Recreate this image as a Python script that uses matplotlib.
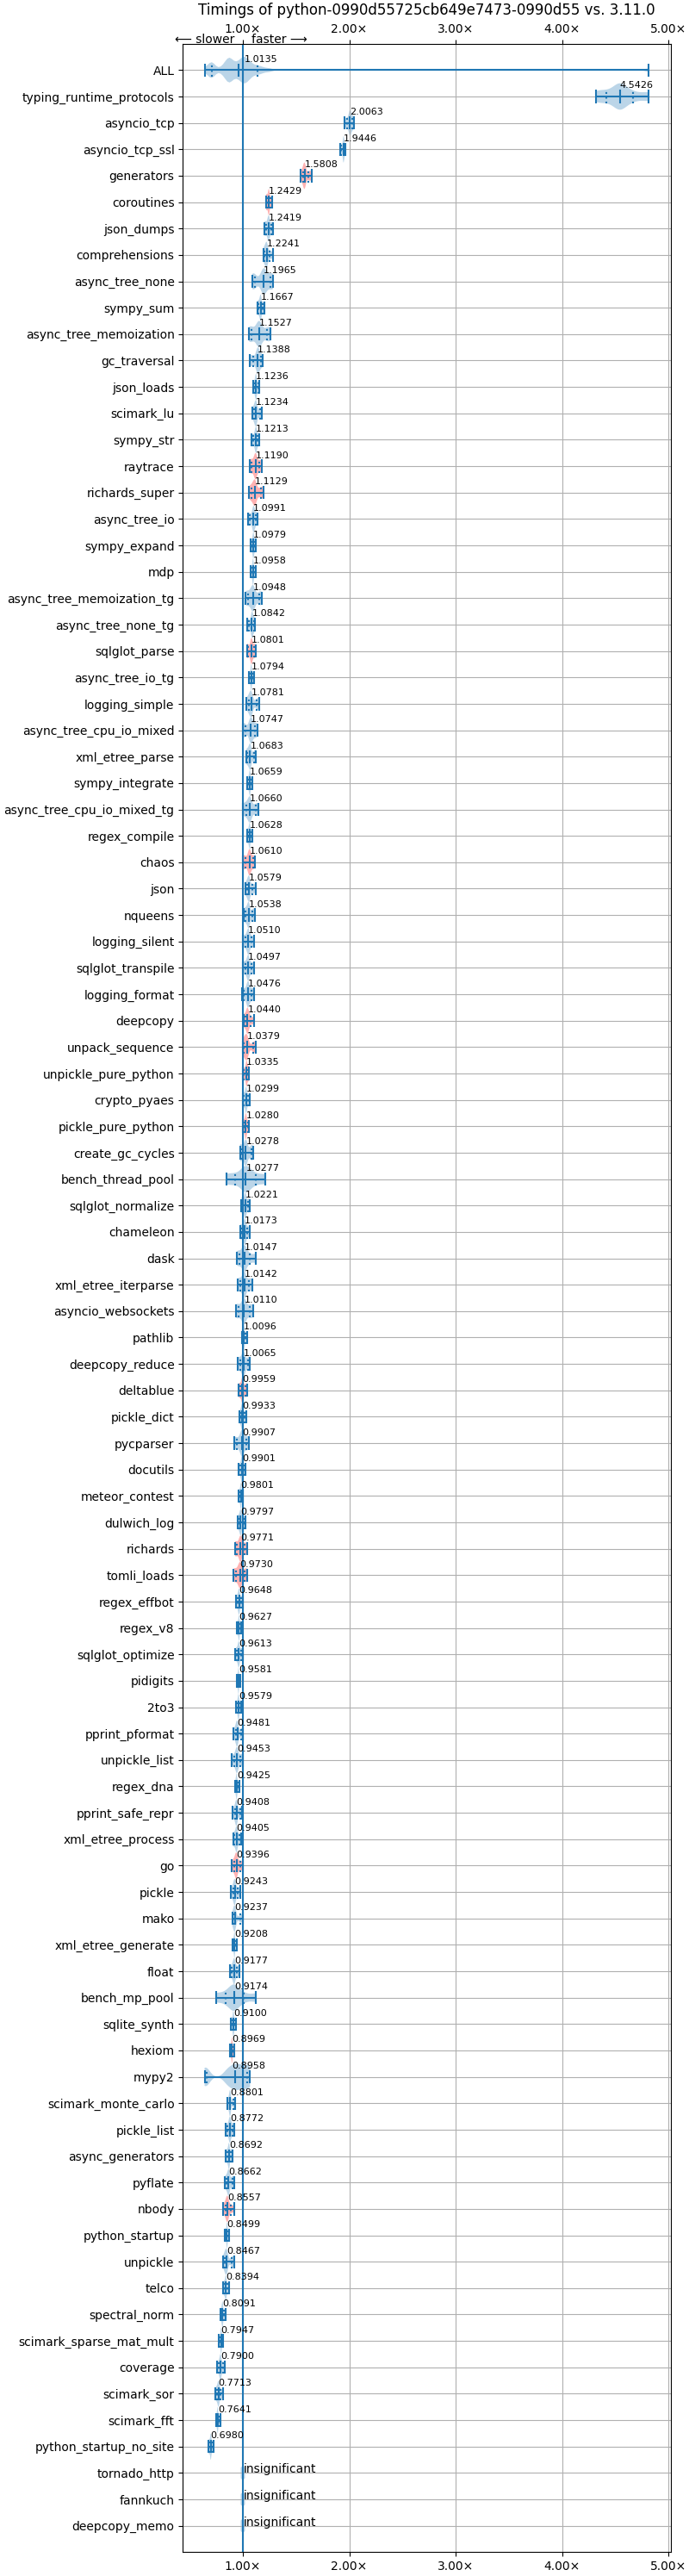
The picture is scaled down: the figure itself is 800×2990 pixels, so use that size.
import matplotlib
matplotlib.use("Agg")
import matplotlib.pyplot as plt

TITLE = "Timings of python-0990d55725cb649e7473-0990d55 vs. 3.11.0"

names = ["typing_runtime_protocols", "asyncio_tcp", "asyncio_tcp_ssl", "generators", "coroutines", "json_dumps",
         "comprehensions", "async_tree_none", "sympy_sum", "async_tree_memoization", "gc_traversal", "json_loads",
         "scimark_lu", "sympy_str", "raytrace", "richards_super", "async_tree_io", "sympy_expand", "mdp",
         "async_tree_memoization_tg", "async_tree_none_tg", "sqlglot_parse", "async_tree_io_tg", "logging_simple",
         "async_tree_cpu_io_mixed", "xml_etree_parse", "sympy_integrate", "async_tree_cpu_io_mixed_tg", "regex_compile",
         "chaos", "json", "nqueens", "logging_silent", "sqlglot_transpile", "logging_format", "deepcopy",
         "unpack_sequence", "unpickle_pure_python", "crypto_pyaes", "pickle_pure_python", "create_gc_cycles",
         "bench_thread_pool", "sqlglot_normalize", "chameleon", "dask", "xml_etree_iterparse", "asyncio_websockets",
         "pathlib", "deepcopy_reduce", "deltablue", "pickle_dict", "pycparser", "docutils", "meteor_contest",
         "dulwich_log", "richards", "tomli_loads", "regex_effbot", "regex_v8", "sqlglot_optimize", "pidigits", "2to3",
         "pprint_pformat", "unpickle_list", "regex_dna", "pprint_safe_repr", "xml_etree_process", "go", "pickle",
         "mako", "xml_etree_generate", "float", "bench_mp_pool", "sqlite_synth", "hexiom", "mypy2",
         "scimark_monte_carlo", "pickle_list", "async_generators", "pyflate", "nbody", "python_startup", "unpickle",
         "telco", "spectral_norm", "scimark_sparse_mat_mult", "coverage", "scimark_sor", "scimark_fft",
         "python_startup_no_site"]

medians = [4.5426, 2.0063, 1.9446, 1.5808, 1.2429, 1.2419, 1.2241, 1.1965, 1.1667, 1.1527, 1.1388, 1.1236, 1.1234,
           1.1213, 1.1190, 1.1129, 1.0991, 1.0979, 1.0958, 1.0948, 1.0842, 1.0801, 1.0794, 1.0781, 1.0747, 1.0683,
           1.0659, 1.0660, 1.0628, 1.0610, 1.0579, 1.0538, 1.0510, 1.0497, 1.0476, 1.0440, 1.0379, 1.0335, 1.0299,
           1.0280, 1.0278, 1.0277, 1.0221, 1.0173, 1.0147, 1.0142, 1.0110, 1.0096, 1.0065, 0.9959, 0.9933, 0.9907,
           0.9901, 0.9801, 0.9797, 0.9771, 0.9730, 0.9648, 0.9627, 0.9613, 0.9581, 0.9579, 0.9481, 0.9453, 0.9425,
           0.9408, 0.9405, 0.9396, 0.9243, 0.9237, 0.9208, 0.9177, 0.9174, 0.9100, 0.8969, 0.8958, 0.8801, 0.8772,
           0.8692, 0.8662, 0.8557, 0.8499, 0.8467, 0.8394, 0.8091, 0.7947, 0.7900, 0.7713, 0.7641, 0.6980]

mins = [4.32, 1.953, 1.916, 1.54, 1.219, 1.202, 1.194, 1.089, 1.137, 1.057, 1.065, 1.097, 1.086, 1.078, 1.065, 1.057,
        1.049, 1.07, 1.075, 1.024, 1.038, 1.038, 1.059, 1.03, 1.0, 1.03, 1.043, 1.003, 1.038, 1.003, 1.022, 1.011,
        1.0, 1.003, 0.989, 1.005, 1.0, 1.0, 1.0, 1.0, 0.973, 0.844, 0.987, 0.978, 0.941, 0.951, 0.933, 0.989, 0.951,
        0.96, 0.965, 0.916, 0.962, 0.962, 0.949, 0.925, 0.908, 0.938, 0.946, 0.93, 0.946, 0.935, 0.914, 0.898, 0.93,
        0.906, 0.908, 0.898, 0.889, 0.9, 0.906, 0.876, 0.749, 0.889, 0.881, 0.64, 0.857, 0.836, 0.841, 0.827, 0.817,
        0.833, 0.811, 0.817, 0.792, 0.776, 0.76, 0.744, 0.752, 0.679]

q_lows = [4.413, 1.978, 1.925, 1.565, 1.225, 1.215, 1.205, 1.11, 1.148, 1.084, 1.094, 1.111, 1.105, 1.097, 1.084, 1.081,
          1.067, 1.081, 1.086, 1.049, 1.054, 1.051, 1.07, 1.054, 1.022, 1.043, 1.054, 1.03, 1.046, 1.022, 1.038, 1.027,
          1.022, 1.022, 1.011, 1.022, 1.011, 1.011, 1.008, 1.011, 0.984, 0.925, 0.995, 0.987, 0.965, 0.976, 0.96, 0.995,
          0.973, 0.973, 0.978, 0.946, 0.975, 0.968, 0.962, 0.941, 0.933, 0.951, 0.951, 0.943, 0.95, 0.946, 0.933, 0.922,
          0.935, 0.925, 0.92, 0.919, 0.908, 0.919, 0.912, 0.895, 0.838, 0.895, 0.887, 0.66, 0.876, 0.852, 0.852, 0.844,
          0.838, 0.838, 0.83, 0.825, 0.8, 0.78, 0.775, 0.755, 0.757, 0.685]

q_highs = [4.665, 2.028, 1.955, 1.619, 1.26, 1.27, 1.255, 1.261, 1.189, 1.226, 1.167, 1.143, 1.159, 1.14, 1.156, 1.167,
           1.121, 1.113, 1.108, 1.154, 1.102, 1.105, 1.094, 1.132, 1.113, 1.108, 1.084, 1.119, 1.08, 1.094, 1.092, 1.092,
           1.081, 1.078, 1.078, 1.07, 1.097, 1.05, 1.051, 1.046, 1.078, 1.121, 1.048, 1.04, 1.065, 1.059, 1.065, 1.027,
           1.049, 1.024, 1.016, 1.03, 1.005, 0.99, 1.005, 1.013, 1.019, 0.987, 0.973, 0.984, 0.965, 0.968, 0.984, 0.978,
           0.954, 0.973, 0.965, 0.973, 0.954, 0.973, 0.93, 0.943, 1.011, 0.922, 0.906, 1.043, 0.911, 0.9, 0.89, 0.9,
           0.889, 0.859, 0.895, 0.855, 0.824, 0.802, 0.81, 0.792, 0.775, 0.71]

maxs = [4.81, 2.044, 1.966, 1.644, 1.276, 1.285, 1.285, 1.286, 1.205, 1.261, 1.189, 1.156, 1.181, 1.156, 1.181, 1.197,
        1.14, 1.124, 1.119, 1.181, 1.113, 1.119, 1.102, 1.156, 1.135, 1.124, 1.092, 1.148, 1.092, 1.116, 1.119, 1.11,
        1.108, 1.102, 1.102, 1.102, 1.124, 1.059, 1.067, 1.059, 1.094, 1.213, 1.062, 1.062, 1.119, 1.086, 1.094, 1.038,
        1.067, 1.038, 1.03, 1.054, 1.022, 1.003, 1.022, 1.038, 1.043, 1.0, 0.984, 0.997, 0.976, 0.984, 1.003, 1.0,
        0.968, 0.989, 0.984, 1.0, 0.976, 1.0, 0.941, 0.965, 1.124, 0.933, 0.916, 1.068, 0.924, 0.916, 0.9, 0.916,
        0.922, 0.868, 0.916, 0.868, 0.836, 0.811, 0.827, 0.811, 0.787, 0.722]

red_rows = ["generators", "coroutines", "raytrace", "richards_super", "sqlglot_parse", "chaos", "deepcopy",
            "unpack_sequence", "unpickle_pure_python", "pickle_pure_python", "deltablue", "richards", "tomli_loads",
            "go", "hexiom", "nbody"]

all_samples = [0.645, 0.695, 0.70, 0.707, 0.715, 0.72, 0.80, 0.83, 0.85, 0.86, 0.865, 0.87, 0.875, 0.88, 0.89, 0.91,
               0.93, 0.95, 0.965, 0.98, 0.99, 1.0, 1.005, 1.0135, 1.02, 1.03, 1.04, 1.05, 1.06, 1.08, 1.10, 1.138,
               1.15, 1.19, 1.25, 4.81]
all_q_low_sample = 3
all_q_high_sample = 31

mypy2_samples = [0.64, 0.66, 0.85, 0.8958, 0.93, 0.96, 1.0, 1.043, 1.068]
mypy2_q_low_sample = 1
mypy2_q_high_sample = 7

insignificant = ["tornado_http", "fannkuch", "deepcopy_memo"]
insignificant_samples = [0.98, 1.0, 1.02]

xticks = [1, 2, 3, 4, 5]
xticklabels = ["1.00\u00d7", "2.00\u00d7", "3.00\u00d7", "4.00\u00d7", "5.00\u00d7"]

fig = plt.figure(figsize=(8, 29.9), dpi=100)
ax = fig.add_axes([212.3 / 800, 1 - 2962.3 / 2990, (778.7 - 212.3) / 800, (2962.3 - 50.7) / 2990])
ax.set_prop_cycle(color=["#1f77b4"])

all_names = ["ALL"] + names + insignificant
n_rows = len(all_names)
positions = {n: n_rows - i for i, n in enumerate(all_names)}


def draw(samples, name, quantiles, bw, red=False):
    parts = ax.violinplot([samples], positions=[positions[name]], orientation="horizontal", widths=1.0,
                          showmedians=True, showextrema=True, quantiles=[quantiles], bw_method=bw, points=200)
    for key in ("cmins", "cmaxes", "cbars", "cmedians", "cquantiles"):
        parts[key].set_linewidth(1.5)
    parts["cquantiles"].set_linestyle(":")
    if red:
        for body in parts["bodies"]:
            body.set_facecolor("red")


draw(all_samples, "ALL", [all_q_low_sample / (len(all_samples) - 1), all_q_high_sample / (len(all_samples) - 1)], 0.05)
ax.text(1.0135, positions["ALL"] + 0.31, "1.0135", size=8)

for i, name in enumerate(names):
    if name == "mypy2":
        n = len(mypy2_samples)
        draw(mypy2_samples, name, [mypy2_q_low_sample / (n - 1), mypy2_q_high_sample / (n - 1)], 0.25)
    else:
        samples = [mins[i], q_lows[i], medians[i], medians[i], medians[i], q_highs[i], maxs[i]]
        draw(samples, name, [1 / 6, 5 / 6], 0.4, red=name in red_rows)
    ax.text(medians[i], positions[name] + 0.31, f"{medians[i]:.4f}", size=8)

for name in insignificant:
    ax.violinplot([insignificant_samples], positions=[positions[name]], orientation="horizontal", widths=0.5,
                  showextrema=False, points=100)
    ax.text(1.01, positions[name], "insignificant")

ax.axvline(1.0)
ax.set_xlim(0.436, 5.02)
ax.set_ylim(0, n_rows + 1)
ax.set_yticks([positions[n] for n in all_names])
ax.set_yticklabels(all_names)
ax.set_xticks(xticks)
ax.set_xticklabels(xticklabels)
ax.tick_params(axis="x", top=True, labeltop=True, bottom=True, labelbottom=True)
ax.grid(True)
ax.set_title(TITLE, pad=24)
ax.annotate("\u27f5 slower", xy=(1.0, 1.0), xycoords=("data", "axes fraction"), xytext=(-7.2, -2), textcoords="offset points", ha="right", va="bottom")
ax.annotate("faster \u27f6", xy=(1.0, 1.0), xycoords=("data", "axes fraction"), xytext=(7.2, -2), textcoords="offset points", ha="left", va="bottom")

fig.savefig("out.png", dpi=100)
